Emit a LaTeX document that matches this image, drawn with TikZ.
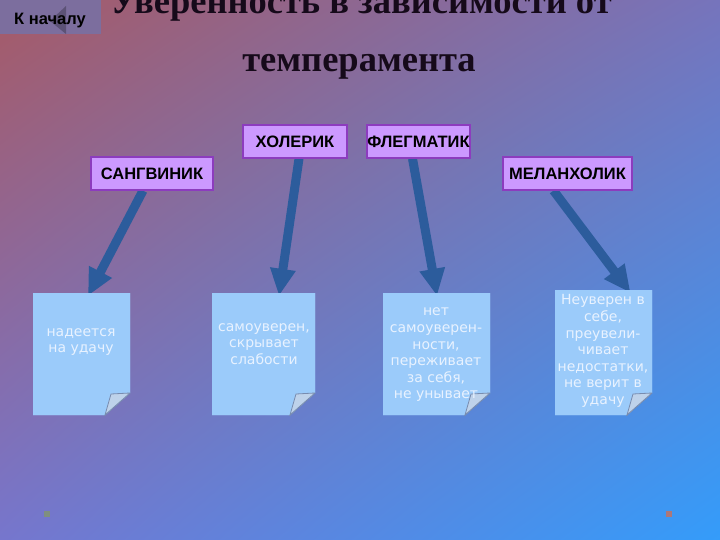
\documentclass[tikz,border=0pt]{standalone}
\usepackage{fontspec}
\setmainfont{Liberation Serif}
\newfontfamily\labelfont{Liberation Sans}
\newfontfamily\notefont{DejaVu Sans}
\usetikzlibrary{arrows.meta,shadings}
\definecolor{bgTL}{RGB}{166,90,102}
\definecolor{bgTR}{RGB}{118,116,188}
\definecolor{bgBL}{RGB}{118,118,205}
\definecolor{bgBR}{RGB}{52,156,250}
\definecolor{btnfill}{RGB}{124,110,158}
\definecolor{lblfill}{RGB}{204,153,255}
\definecolor{lblborder}{RGB}{140,60,190}
\definecolor{notefill}{RGB}{155,203,250}
\definecolor{foldfill}{RGB}{190,210,234}
\definecolor{foldline}{RGB}{120,140,175}
\definecolor{notetext}{RGB}{232,242,255}
\definecolor{arrowcol}{RGB}{44,92,156}
\definecolor{titlecol}{RGB}{22,10,26}
\definecolor{dotgreen}{RGB}{130,150,110}
\definecolor{dotorange}{RGB}{200,112,92}
\begin{document}
\begin{tikzpicture}[x=1pt,y=-1pt,
  lbl/.style={draw=lblborder, fill=lblfill, line width=1.2pt,
    font=\labelfont\bfseries\fontsize{16.5}{19}\selectfont,
    inner sep=0pt, minimum height=33pt, text=black},
  notebox/.style={inner sep=0pt, path picture={
    \fill[notefill] (path picture bounding box.north west)
      -- (path picture bounding box.north east)
      -- ([yshift=22pt]path picture bounding box.south east)
      -- ([xshift=-25pt]path picture bounding box.south east)
      -- (path picture bounding box.south west) -- cycle;
    \filldraw[fill=foldfill, draw=foldline, line width=0.8pt]
      ([yshift=22pt]path picture bounding box.south east)
      -- ([xshift=-19pt,yshift=21pt]path picture bounding box.south east)
      -- ([xshift=-25pt]path picture bounding box.south east) -- cycle;
  }},
  notetxt/.style={align=center, text=notetext, inner sep=0pt,
    font=\notefont\fontsize{14}{16.6}\selectfont},
  titletxt/.style={font=\bfseries\fontsize{36.5}{44}\selectfont, text=titlecol, inner sep=0pt},
  arr/.style={draw=arrowcol, line width=9pt,
    -{Triangle[width=24pt,length=27pt]}, arrowcol}
]
\useasboundingbox (0,0) rectangle (720,540);
\clip (0,0) rectangle (720,540);
\shade[upper left=bgTL, upper right=bgTR, lower left=bgBL, lower right=bgBR]
  (0,0) rectangle (720,540);

% back button
\fill[btnfill] (0,0) rectangle (101,34);
\fill[black, opacity=0.25] (50,21) -- (66,6) -- (66,34) -- cycle;
\node[font=\labelfont\bfseries\fontsize{16.5}{19}\selectfont, text=black,
  inner sep=0pt, anchor=base] (back) at (50,25) {К началу};

% title
\node[titletxt, anchor=base] (t1) at (361,14) {Уверенность в зависимости от};
\node[titletxt, anchor=base] (t2) at (359,72) {темперамента};

% temperament labels
\node[lbl, minimum width=104pt] (chol) at (295,141.5) {ХОЛЕРИК};
\node[lbl, minimum width=103pt] (phleg) at (418.5,141.5) {ФЛЕГМАТИК};
\node[lbl, minimum width=122pt] (sang) at (152,173.5) {САНГВИНИК};
\node[lbl, minimum width=129pt] (mel) at (567.5,173.5) {МЕЛАНХОЛИК};

% note shapes (named for connectors)
\path (81.5,354) node[notebox, minimum width=97pt, minimum height=122pt] (n1) {};
\path (263.5,354) node[notebox, minimum width=103pt, minimum height=122pt] (n2) {};
\path (436.5,354) node[notebox, minimum width=107pt, minimum height=122pt] (n3) {};
\path (603.5,352.5) node[notebox, minimum width=97pt, minimum height=125pt] (n4) {};

% arrows
\draw[arr] ([xshift=-9pt]sang.south) -- ([xshift=6.5pt,yshift=-3pt]n1.north);
\draw[arr] ([xshift=4pt]chol.south) -- ([xshift=15.5pt,yshift=-3pt]n2.north);
\draw[arr] ([xshift=-6pt]phleg.south) -- ([xshift=0.5pt,yshift=-3pt]n3.north);
\draw[arr] ([xshift=-14pt]mel.south) -- ([xshift=27pt,yshift=-3pt]n4.north);

% redraw labels and notes on top of arrows
\node[lbl, minimum width=104pt] at (chol) {ХОЛЕРИК};
\node[lbl, minimum width=103pt] at (phleg) {ФЛЕГМАТИК};
\node[lbl, minimum width=122pt] at (sang) {САНГВИНИК};
\node[lbl, minimum width=129pt] at (mel) {МЕЛАНХОЛИК};
\path (n1) node[notebox, minimum width=97pt, minimum height=122pt] {};
\path (n2) node[notebox, minimum width=103pt, minimum height=122pt] {};
\path (n3) node[notebox, minimum width=107pt, minimum height=122pt] {};
\path (n4) node[notebox, minimum width=97pt, minimum height=125pt] {};

% note texts
\node[notetxt] (n1t) at (81,342) {надеется\\на удачу};
\node[notetxt] (n2t) at (264,344) {самоуверен,\\скрывает\\слабости};
\node[notetxt] (n3t) at (436,355) {нет\\самоуверен-\\ности,\\переживает\\за себя,\\не унывает};
\node[notetxt] (n4t) at (603,351) {Неуверен в\\себе,\\преувели-\\чивает\\недостатки,\\не верит в\\удачу};

% small corner marks
\fill[dotgreen, opacity=0.8] (44,511) rectangle (50,517);
\fill[dotorange, opacity=0.8] (666,511) rectangle (672,517);
\end{tikzpicture}
\end{document}
